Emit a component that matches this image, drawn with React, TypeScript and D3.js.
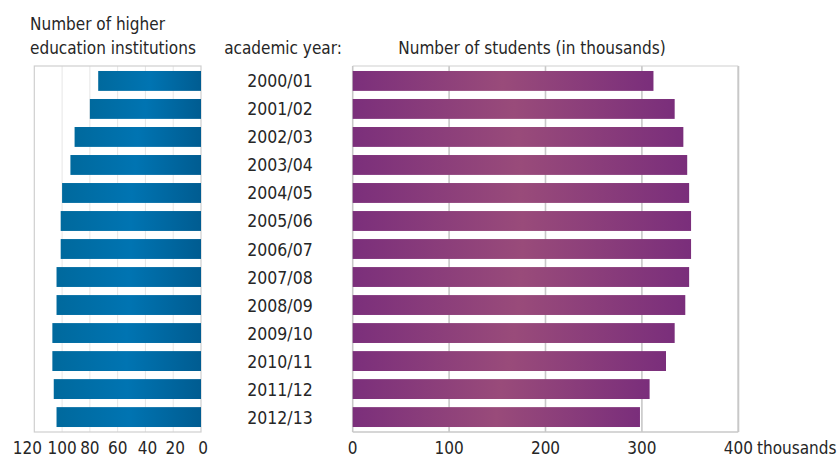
import React from "react";
import * as d3 from "d3";

const years = ["2000/01","2001/02","2002/03","2003/04","2004/05","2005/06","2006/07","2007/08","2008/09","2009/10","2010/11","2011/12","2012/13"];
const institutions = [74, 80, 91, 94, 100, 101, 101, 104, 104, 107, 107, 106, 104];
const students = [312, 334, 343, 347, 349, 351, 351, 349, 345, 334, 325, 308, 298];
const instTicks = [120, 100, 80, 60, 40, 20, 0];
const studTicks = [0, 100, 200, 300, 400];

const W = 838, H = 458;
const FONT = "'DejaVu Sans Condensed', 'Liberation Sans Narrow', sans-serif";
const TXT = "#262626";

export default function App() {
  const top = 66, bottom = 432;
  const y = d3.scaleBand<string>().domain(years).range([top, bottom]).paddingInner(0.29).paddingOuter(0.178);
  const xL = d3.scaleLinear().domain([120, 0]).range([34.3, 201]);
  const xR = d3.scaleLinear().domain([0, 400]).range([352.7, 738.3]);
  const bw = y.bandwidth();
  const fs = 17;
  const leftLabelShift = (t: number) => (t === 120 ? -7 : t <= 40 ? 2 : 0);

  return (
    <svg width={W} height={H} style={{ position: "absolute", left: 0, top: 0, background: "#fff" }} fontFamily={FONT}>
      <defs>
        <linearGradient id="gBlue" x1="0" x2="1" y1="0" y2="0">
          <stop offset="0" stopColor="#00699d" />
          <stop offset="0.5" stopColor="#0074b2" />
          <stop offset="1" stopColor="#005c91" />
        </linearGradient>
        <linearGradient id="gPurple" x1="0" x2="1" y1="0" y2="0">
          <stop offset="0" stopColor="#7b2f7b" />
          <stop offset="0.5" stopColor="#994b7a" />
          <stop offset="1" stopColor="#7a2e7b" />
        </linearGradient>
      </defs>
      <rect x={0} y={0} width={W} height={H} fill="#fff" />

      {/* Left panel grid */}
      {instTicks.filter(t => t !== 0 && t !== 120).map(t => (
        <line key={"lg" + t} x1={xL(t)} x2={xL(t)} y1={top} y2={bottom} stroke="#e6e6e6" strokeWidth={1} />
      ))}
      <rect x={xL(120)} y={top} width={xL(0) - xL(120)} height={bottom - top} fill="none" stroke="#cfcfcf" strokeWidth={1.2} />
      {years.map((yr, i) => (
        <rect key={"lb" + yr} x={xL(institutions[i])} y={y(yr)} width={xL(0) - xL(institutions[i])} height={bw} fill="url(#gBlue)" />
      ))}
      {instTicks.map(t => (
        <text key={"lt" + t} x={xL(t) + leftLabelShift(t)} y={454} textAnchor="middle" fontSize={fs} fill={TXT}>{t}</text>
      ))}

      {/* Right panel grid */}
      {studTicks.filter(t => t !== 0).map(t => (
        <line key={"rg" + t} x1={xR(t)} x2={xR(t)} y1={top} y2={bottom} stroke="#c8c8c8" strokeWidth={t === 400 ? 2 : 1.6} />
      ))}
      <line x1={xR(0)} x2={xR(400)} y1={top} y2={top} stroke="#cfcfcf" strokeWidth={1.2} />
      <line x1={xR(0)} x2={xR(400)} y1={bottom} y2={bottom} stroke="#c8c8c8" strokeWidth={1.6} />
      <line x1={xR(0)} x2={xR(0)} y1={top} y2={bottom} stroke="#c8c8c8" strokeWidth={1.6} />
      {years.map((yr, i) => (
        <rect key={"rb" + yr} x={xR(0)} y={y(yr)} width={xR(students[i]) - xR(0)} height={bw} fill="url(#gPurple)" />
      ))}
      {studTicks.map(t => (
        <text key={"rt" + t} x={xR(t)} y={454} textAnchor="middle" fontSize={fs} fill={TXT}>{t}</text>
      ))}
      <text x={757} y={454} fontSize={fs} fill={TXT}>thousands</text>

      {/* Year labels */}
      {years.map(yr => (
        <text key={"yl" + yr} x={280} y={(y(yr) as number) + bw / 2 + 6.5} textAnchor="middle" fontSize={17.5} fill={TXT}>{yr}</text>
      ))}

      {/* Titles */}
      <text x={30} y={30} fontSize={fs} fill={TXT}>Number of higher</text>
      <text x={30} y={54} fontSize={fs} fill={TXT}>education institutions</text>
      <text x={283} y={54} textAnchor="middle" fontSize={fs} fill={TXT}>academic year:</text>
      <text x={532} y={54} textAnchor="middle" fontSize={fs} fill={TXT}>Number of students (in thousands)</text>
    </svg>
  );
}
